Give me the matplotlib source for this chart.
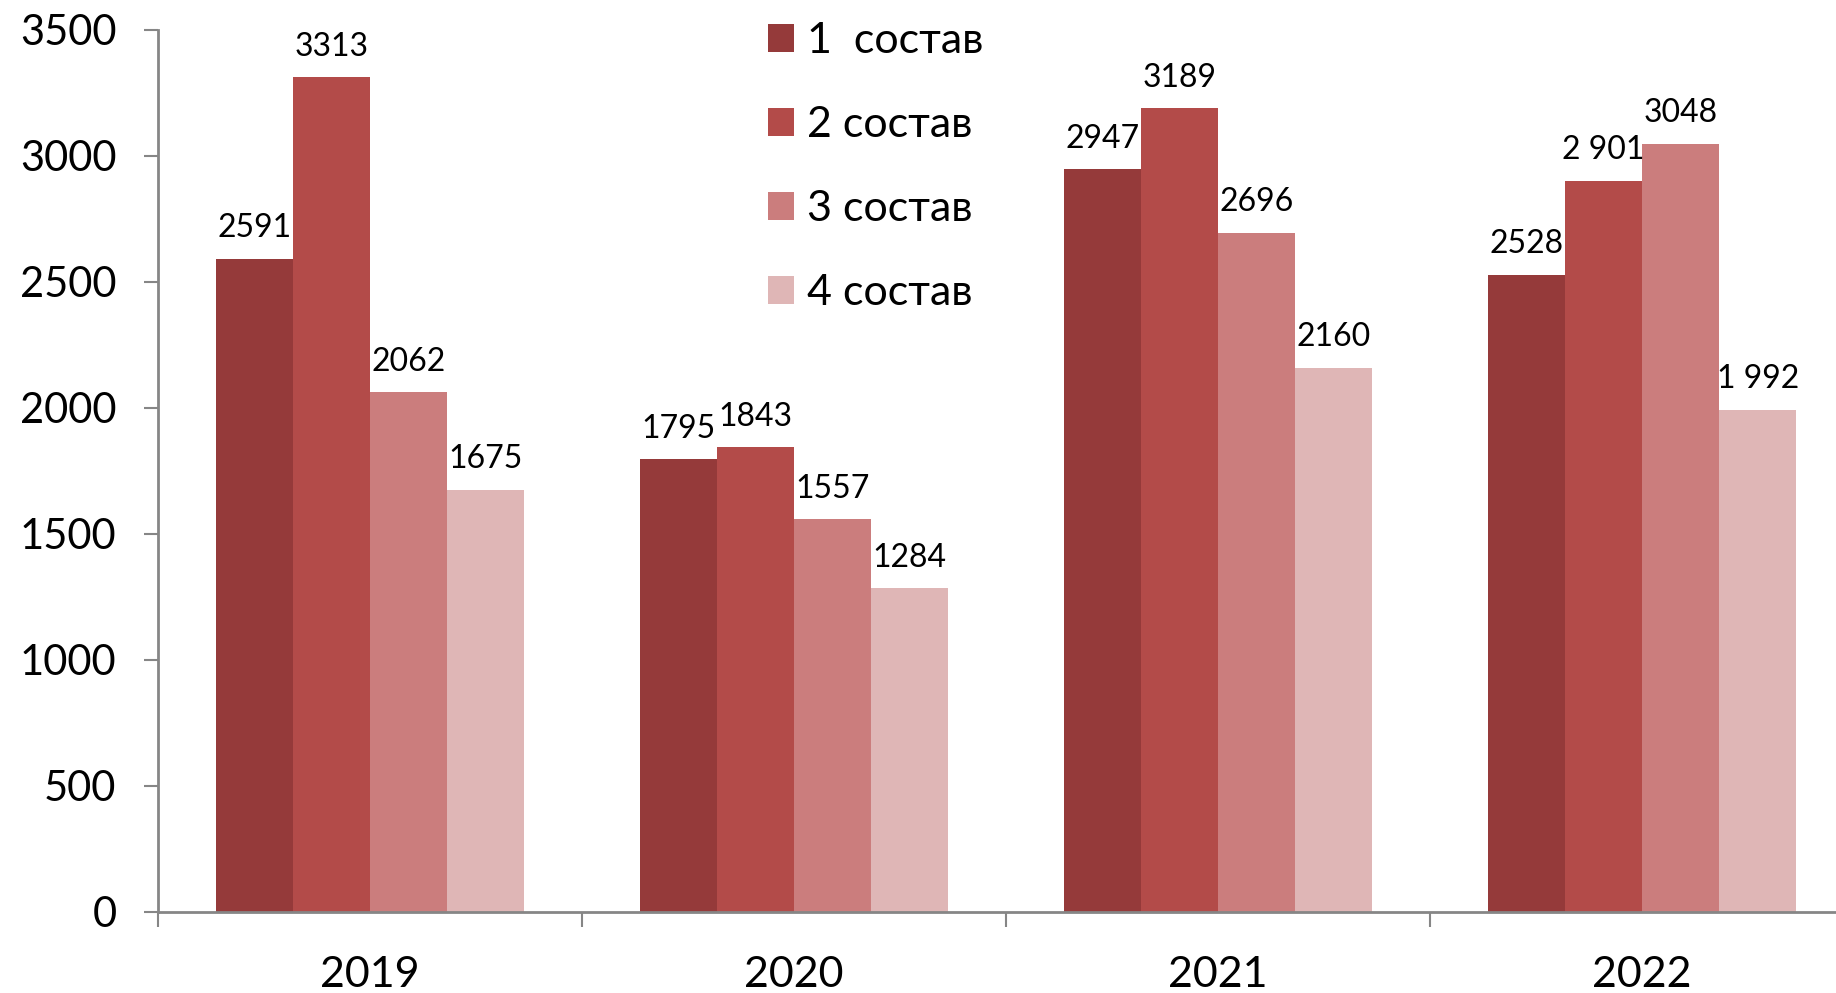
import numpy as np
import matplotlib
matplotlib.use('Agg')
import matplotlib.pyplot as plt
from matplotlib.patches import Patch

# data
years = ['2019', '2020', '2021', '2022']
series_names = ['1  состав', '2 состав', '3 состав', '4 состав']
sostav1 = [2591, 1795, 2947, 2528]
sostav2 = [3313, 1843, 3189, 2901]
sostav3 = [2062, 1557, 2696, 3048]
sostav4 = [1675, 1284, 2160, 1992]
label_text = [
    ['2591', '1795', '2947', '2528'],
    ['3313', '1843', '3189', '2 901'],
    ['2062', '1557', '2696', '3048'],
    ['1675', '1284', '2160', '1 992'],
]
colors = ['#953A3A', '#B34B49', '#CB7D7D', '#DFB6B6']

plt.rcParams['font.family'] = ['Lato', 'DejaVu Sans']

fig = plt.figure(figsize=(18.36, 9.93), dpi=100)
# the plot area runs a little past the right edge of the picture
ax = fig.add_axes([0.0861, 0.0819, 0.92375, 0.8879])

x = np.arange(len(years))
w = 0.182
all_series = [sostav1, sostav2, sostav3, sostav4]
for i, vals in enumerate(all_series):
    pos = x + (i - 1.5) * w
    ax.bar(pos, vals, width=w, color=colors[i], edgecolor='none')
    for p, v, t in zip(pos, vals, label_text[i]):
        ax.annotate(t, (p, v), xytext=(0, 22), textcoords='offset points',
                    ha='center', va='center', fontsize=23)

ax.set_ylim(0, 3500)
ax.set_xlim(-0.5, 3.5)
ax.set_yticks(np.arange(0, 3501, 500))
ax.tick_params(axis='y', labelsize=30, length=10, width=1.5, color='#868686', pad=20)

# year labels in the middle, tick marks between categories
ax.set_xticks(x)
ax.set_xticklabels(years, fontsize=31)
ax.tick_params(axis='x', which='major', length=0, pad=32)
ax.set_xticks(np.arange(-0.5, 4, 1), minor=True)
ax.tick_params(axis='x', which='minor', length=11, width=1.5, color='#868686', direction='out')

for s in ['top', 'right']:
    ax.spines[s].set_visible(False)
for s in ['left', 'bottom']:
    ax.spines[s].set_color('#868686')
    ax.spines[s].set_linewidth(2)

handles = [Patch(facecolor=c, edgecolor='none') for c in colors]
leg = fig.legend(handles, series_names, loc='upper left', bbox_to_anchor=(0.397, 1.017),
                 frameon=False, fontsize=31, handlelength=0.62, handleheight=0.62,
                 handletextpad=0.3, labelspacing=1.07)

fig.savefig('out.png', dpi=100)
